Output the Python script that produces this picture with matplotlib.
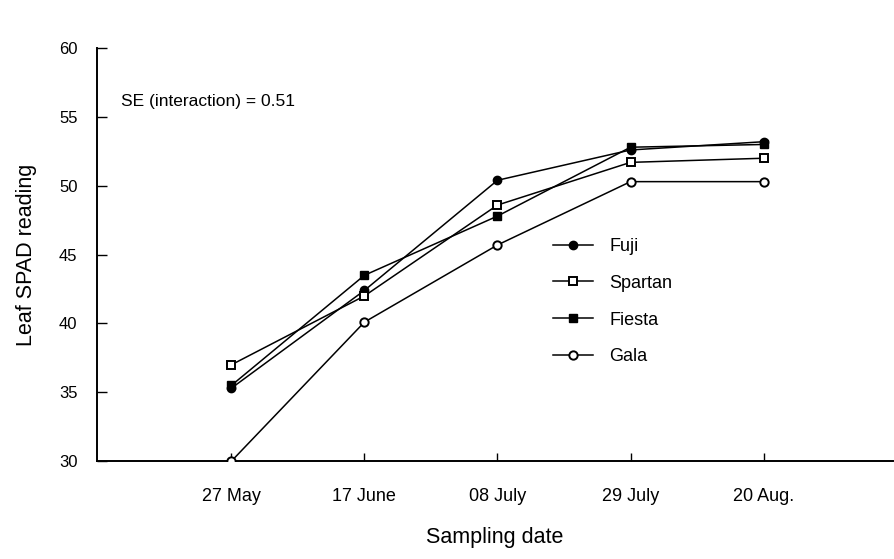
import matplotlib.pyplot as plt

plt.rcParams['font.family'] = ['Liberation Sans', 'DejaVu Sans']

dates = ['27 May', '17 June', '08 July', '29 July', '20 Aug.']
fuji = [35.3, 42.4, 50.4, 52.6, 53.2]
spartan = [37.0, 42.0, 48.6, 51.7, 52.0]
fiesta = [35.5, 43.5, 47.8, 52.8, 53.0]
gala = [30.0, 40.1, 45.7, 50.3, 50.3]

fig = plt.figure(figsize=(8.94, 5.59), dpi=100)
ax = fig.add_axes([0.1085, 0.175, 0.89, 0.739])

x = range(len(dates))
ax.plot(x, fuji, '-o', color='black', mfc='black', ms=10, lw=1.1, label='Fuji', zorder=3)
ax.plot(x, spartan, '-s', color='black', mfc='white', mew=1.4, ms=10, lw=1.1, label='Spartan', zorder=3)
ax.plot(x, fiesta, '-s', color='black', mfc='black', ms=10, lw=1.1, label='Fiesta', zorder=4)
ax.plot(x, gala, '-o', color='black', mfc='white', mew=1.4, ms=10.5, lw=1.1, label='Gala', zorder=3)

ax.set_xlim(-1.01, 4.97)
ax.set_ylim(30, 60)
ax.set_yticks(range(30, 61, 5))
ax.set_xticks(list(x))
ax.set_xticklabels(dates)

for s in ['top', 'right']:
    ax.spines[s].set_visible(False)
for s in ['left', 'bottom']:
    ax.spines[s].set_linewidth(1.4)

ax.tick_params(axis='y', direction='in', length=7, width=1, labelsize=12, pad=14)
ax.tick_params(axis='x', direction='in', length=6, width=1, labelsize=13, pad=19)

ax.set_xlabel('Sampling date', fontsize=15.5, labelpad=16)
ax.set_ylabel('Leaf SPAD reading', fontsize=15.5, labelpad=16)

ax.text(0.03, 0.86, 'SE (interaction) = 0.51', transform=ax.transAxes, fontsize=12.5)

handles, labels = ax.get_legend_handles_labels()
for h in handles:
    h.set_markersize(6)
leg = ax.legend(handles, labels, loc='upper left', bbox_to_anchor=(0.553, 0.58),
                frameon=False, fontsize=13, handlelength=2.2, labelspacing=1.1,
                handletextpad=0.9)

fig.savefig('out.png', dpi=100)
